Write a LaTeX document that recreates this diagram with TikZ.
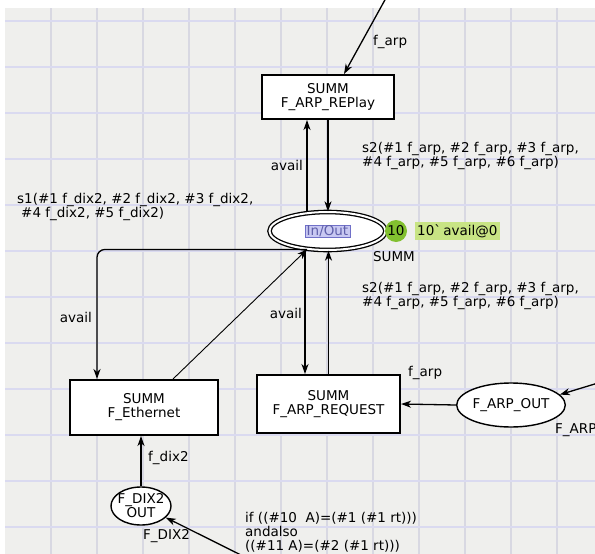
\documentclass[tikz,border=0pt]{standalone}
\usepackage{fontspec}
\setmainfont{DejaVu Sans}
\usepackage{xcolor}
\usetikzlibrary{arrows.meta, shapes.geometric, positioning}

\definecolor{nen}{RGB}{239,239,237}
\definecolor{luoiDoc}{RGB}{216,216,226}
\definecolor{luoiNgang}{RGB}{218,218,240}
\definecolor{xanhla}{RGB}{130,192,48}
\definecolor{xanhnhat}{RGB}{200,228,132}
\definecolor{cong}{RGB}{200,200,242}
\definecolor{congvien}{RGB}{112,112,200}

\tikzset{
    chuyen/.style={draw, line width=2pt, fill=white, minimum width=132pt, minimum height=44pt, align=center, inner sep=2pt},
    cho/.style={draw, ellipse, line width=1.4pt, fill=white, align=center, inner sep=0pt},
    cung/.style={->, line width=1.3pt},
    nhan/.style={inner sep=0pt, align=left, anchor=west},
}

\begin{document}
\begin{tikzpicture}[x=1pt, y=-1pt, >={Stealth[length=10pt,width=7pt,inset=3pt]}, font=\fontsize{13.5}{14}\selectfont]
    % Khung hình và nền lưới
    \useasboundingbox (0,0) rectangle (595,554);
    \clip (0,0) rectangle (595,554);
    \fill[nen] (0,0) rectangle (595,554);
    \fill[white] (0,0) rectangle (595,8);
    \fill[white] (0,0) rectangle (5,554);
    \foreach \x in {1,...,12} \draw[luoiDoc, line width=1.2pt] (5+46*\x,8) -- (5+46*\x,554);
    \foreach \y in {0,...,11} \draw[luoiNgang, line width=1.2pt] (5,21+46*\y) -- (595,21+46*\y);

    % Các chuyển tiếp (transition)
    \node[chuyen] (replay) at (328,97) {SUMM\\F\_ARP\_REPlay};
    \node[chuyen, minimum width=143pt, minimum height=58pt] (request) at (328.5,404) {SUMM\\F\_ARP\_REQUEST};
    \node[chuyen, minimum width=148pt, minimum height=55pt] (ethernet) at (144,407.5) {SUMM\\F\_Ethernet};

    % Các vị trí (place)
    \node[cho, double, double distance=2pt, line width=1.3pt, minimum width=116pt, minimum height=38pt] (inout) at (327.5,231) {};
    \node[fill=cong, draw=congvien, text=congvien!85!black, inner xsep=2pt, inner ysep=0.5pt] (tag) at (inout.center) {In/Out};
    \node[circle, fill=xanhla, minimum size=22pt, inner sep=0pt] (token) at (396,231) {10};
    \node[fill=xanhnhat, inner sep=2pt, anchor=west, minimum height=18pt] (mark) at (415,231) {10\textasciigrave\,avail@0};
    \node (summ) at (394,257) {SUMM};
    \node[cho, minimum width=108pt, minimum height=44pt] (arpout) at (511,405) {F\_ARP\_OUT};
    \node[cho, inner xsep=-6pt, minimum width=60pt, minimum height=38pt] (dix2) at (141,506) {F\_DIX2\\OUT};

    % Các cung nối
    \coordinate (vaoTren) at (386,-2);
    \coordinate (vaoPhai) at (598,383);
    \coordinate (vaoDuoi) at (245,557);
    \draw[cung] (vaoTren) -- ([xshift=16pt]replay.north);
    \draw[cung] (replay.south) -- (replay.south |- inout.north);
    \draw[cung] ([xshift=-21pt]replay.south |- inout.north) -- ([xshift=-21pt]replay.south);
    \draw[cung, rounded corners=8pt] (inout.222) -| ([xshift=-47pt]ethernet.north);
    \draw[cung, line width=0.9pt] ([xshift=29pt]ethernet.north) -- (inout.222);
    \draw[cung] ([xshift=-23.5pt]request.north |- inout.south) -- ([xshift=-23.5pt]request.north);
    \draw[cung] (request.north) -- (request.north |- inout.south);
    \draw[cung] (arpout.west) -- (request.east);
    \draw[cung] (vaoPhai) -- (arpout.12);
    \draw[cung] (dix2.north) -- (dix2.north |- ethernet.south);
    \draw[cung] (vaoDuoi) -- (dix2.-25);

    % Nhãn của các cung
    \node[nhan] (lblTren) at (373,42) {f\_arp};
    \node[nhan, anchor=east] (lblAvail1) at (303,165) {avail};
    \node[nhan] (lblS2a) at (362,155.5) {s2(\#1 f\_arp, \#2 f\_arp, \#3 f\_arp,\\\#4 f\_arp, \#5 f\_arp, \#6 f\_arp)};
    \node[nhan] (lblS1) at (17,207) {s1(\#1 f\_dix2, \#2 f\_dix2, \#3 f\_dix2,\\\hspace*{4pt}\#4 f\_dix2, \#5 f\_dix2)};
    \node[nhan] (lblS2b) at (362,296) {s2(\#1 f\_arp, \#2 f\_arp, \#3 f\_arp,\\\#4 f\_arp, \#5 f\_arp, \#6 f\_arp)};
    \node[nhan, anchor=east] (lblAvail2) at (302,313) {avail};
    \node[nhan, anchor=east] (lblAvail3) at (92,317) {avail};
    \node[nhan] (lblArp) at (408,373) {f\_arp};
    \node[nhan] (lblArpPhai) at (555,430) {F\_ARP};
    \node[nhan] (lblDix) at (148,458) {f\_dix2};
    \node[nhan] (lblDixDuoi) at (143,536) {F\_DIX2};
    \node[nhan, anchor=north west] (dieuKien) at (245,512) {if ((\#10~ A)=(\#1 (\#1 rt)))\\andalso\\((\#11 A)=(\#2 (\#1 rt)))};
\end{tikzpicture}
\end{document}
